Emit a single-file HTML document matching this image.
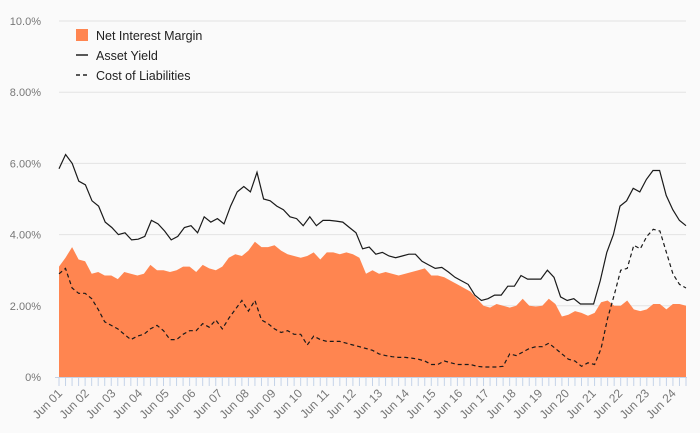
<!DOCTYPE html>
<html><head><meta charset="utf-8"><style>
body{margin:0;background:#fafafa;font-family:"Liberation Sans",sans-serif}
svg{display:block}
</style></head><body>
<svg id="c" width="700" height="433">
<rect width="700" height="433" fill="#fafafa"/>
<g id="grid"></g><g id="series"></g><g id="axis"></g>
<g font-size="12.5" fill="#222">
<rect x="76" y="29" width="12" height="12" fill="#ff8550"/>
<text x="96" y="40">Net Interest Margin</text>
<line x1="76" y1="55" x2="88" y2="55" stroke="#222" stroke-width="1.5"/>
<text x="96" y="60">Asset Yield</text>
<line x1="76" y1="75" x2="88" y2="75" stroke="#222" stroke-width="1.5" stroke-dasharray="4,3"/>
<text x="96" y="80">Cost of Liabilities</text>
</g>
</svg>
<script>
const yTicks=[0,2,4,6,8,10];
const yTickLabels=["0%","2.00%","4.00%","6.00%","8.00%","10.0%"];
const xYears=["Jun 01","Jun 02","Jun 03","Jun 04","Jun 05","Jun 06","Jun 07","Jun 08","Jun 09","Jun 10","Jun 11","Jun 12","Jun 13","Jun 14","Jun 15","Jun 16","Jun 17","Jun 18","Jun 19","Jun 20","Jun 21","Jun 22","Jun 23","Jun 24"];
const assetYield=[5.85,6.25,6.0,5.5,5.4,4.95,4.8,4.35,4.2,4.0,4.05,3.85,3.87,3.95,4.4,4.3,4.1,3.85,3.95,4.2,4.25,4.05,4.5,4.35,4.45,4.3,4.8,5.2,5.35,5.2,5.75,5.0,4.95,4.8,4.7,4.5,4.45,4.25,4.5,4.25,4.4,4.4,4.38,4.35,4.2,4.05,3.6,3.65,3.45,3.5,3.4,3.35,3.4,3.45,3.45,3.25,3.15,3.05,3.08,2.95,2.8,2.7,2.6,2.3,2.15,2.2,2.3,2.3,2.55,2.55,2.85,2.75,2.75,2.75,3.0,2.8,2.25,2.15,2.2,2.05,2.05,2.05,2.7,3.5,4.0,4.8,4.95,5.3,5.2,5.55,5.8,5.8,5.1,4.7,4.4,4.25];
const nim=[3.1,3.35,3.65,3.3,3.25,2.9,2.95,2.85,2.85,2.75,2.95,2.9,2.85,2.9,3.15,3.0,3.0,2.95,3.0,3.1,3.1,2.95,3.15,3.05,3.0,3.1,3.35,3.45,3.4,3.55,3.8,3.65,3.65,3.7,3.55,3.45,3.4,3.35,3.4,3.5,3.3,3.5,3.5,3.45,3.5,3.45,3.35,2.9,3.0,2.9,2.95,2.9,2.85,2.9,2.95,3.0,3.05,2.85,2.85,2.8,2.7,2.6,2.5,2.4,2.2,2.0,1.95,2.05,2.0,1.95,2.0,2.2,2.0,1.98,2.0,2.2,2.05,1.7,1.75,1.85,1.8,1.72,1.8,2.1,2.15,2.0,2.0,2.15,1.9,1.85,1.9,2.05,2.05,1.9,2.05,2.05,2.0];
const costLiab=[2.9,3.05,2.5,2.35,2.35,2.2,1.9,1.55,1.45,1.35,1.2,1.05,1.15,1.2,1.35,1.45,1.3,1.05,1.05,1.2,1.3,1.3,1.5,1.4,1.6,1.35,1.65,1.9,2.15,1.85,2.15,1.6,1.5,1.35,1.25,1.3,1.2,1.2,0.9,1.15,1.05,1.0,1.0,1.0,0.95,0.9,0.85,0.8,0.75,0.65,0.6,0.57,0.55,0.55,0.53,0.5,0.45,0.35,0.35,0.45,0.4,0.35,0.35,0.35,0.3,0.28,0.28,0.28,0.3,0.65,0.6,0.7,0.8,0.85,0.85,0.95,0.8,0.65,0.5,0.45,0.3,0.4,0.35,0.8,1.65,2.3,3.0,3.05,3.7,3.6,3.95,4.15,4.1,3.5,2.9,2.6,2.5];

const NS="http://www.w3.org/2000/svg";
const X0=59,X1=686,Y0=377,Y10=21,YEARPX=26.68;
const nq=Math.max(assetYield.length,nim.length,costLiab.length);
function xq(i,n){return X0+i*(X1-X0)/(n-1);}
function yv(v){return Y0-v*(Y0-Y10)/10;}
function mk(t,a,p){const e=document.createElementNS(NS,t);for(const k in a)e.setAttribute(k,a[k]);p.appendChild(e);return e;}
const grid=document.getElementById('grid'),ser=document.getElementById('series'),ax=document.getElementById('axis');
yTicks.forEach((v,i)=>{
  if(v>0){const l=mk('line',{x1:X0,x2:X1,y1:yv(v),y2:yv(v),stroke:'#e3e3e3','stroke-width':1},grid);
  
  }
  const t=mk('text',{x:41,y:yv(v)+4,'text-anchor':'end','font-size':11,fill:'#777'},ax);
  t.textContent=yTickLabels[i];
  
  
});
let d='M'+xq(0,nim.length)+','+Y0;
nim.forEach((v,i)=>{d+=' L'+xq(i,nim.length).toFixed(1)+','+yv(v).toFixed(1);});
d+=' L'+xq(nim.length-1,nim.length)+','+Y0+' Z';
const area=mk('path',{d:d,fill:'#ff8550'},ser);


function line(arr,dash,name){
  let p='';arr.forEach((v,i)=>{p+=(i?' L':'M')+xq(i,arr.length).toFixed(1)+','+yv(v).toFixed(1);});
  const a={d:p,fill:'none',stroke:'#1a1a1a','stroke-width':1.2};if(dash)a['stroke-dasharray']='4,3';
  const e=mk('path',a,ser);
  
  
}
line(assetYield,false,'asset-yield-line');
line(costLiab,true,'cost-of-liabilities-line');
const axl=mk('line',{x1:X0-4,x2:X1+1,y1:Y0+0.5,y2:Y0+0.5,stroke:'#c5d3e8','stroke-width':1},ax);


for(let i=0;i<nq;i++){
  const x=xq(i,nq);
  const tk=mk('line',{x1:x,x2:x,y1:Y0,y2:Y0+9,stroke:'#c5d3e8','stroke-width':1},ax);
  
  
}
xYears.forEach((s,i)=>{
  const x=X0+i*YEARPX+4,y=Y0+17;
  const t=mk('text',{x:x,y:y,'text-anchor':'end','font-size':12,fill:'#777',transform:'rotate(-45 '+x+' '+y+')'},ax);
  t.textContent=s;
  
  
});
</script>
</body></html>
